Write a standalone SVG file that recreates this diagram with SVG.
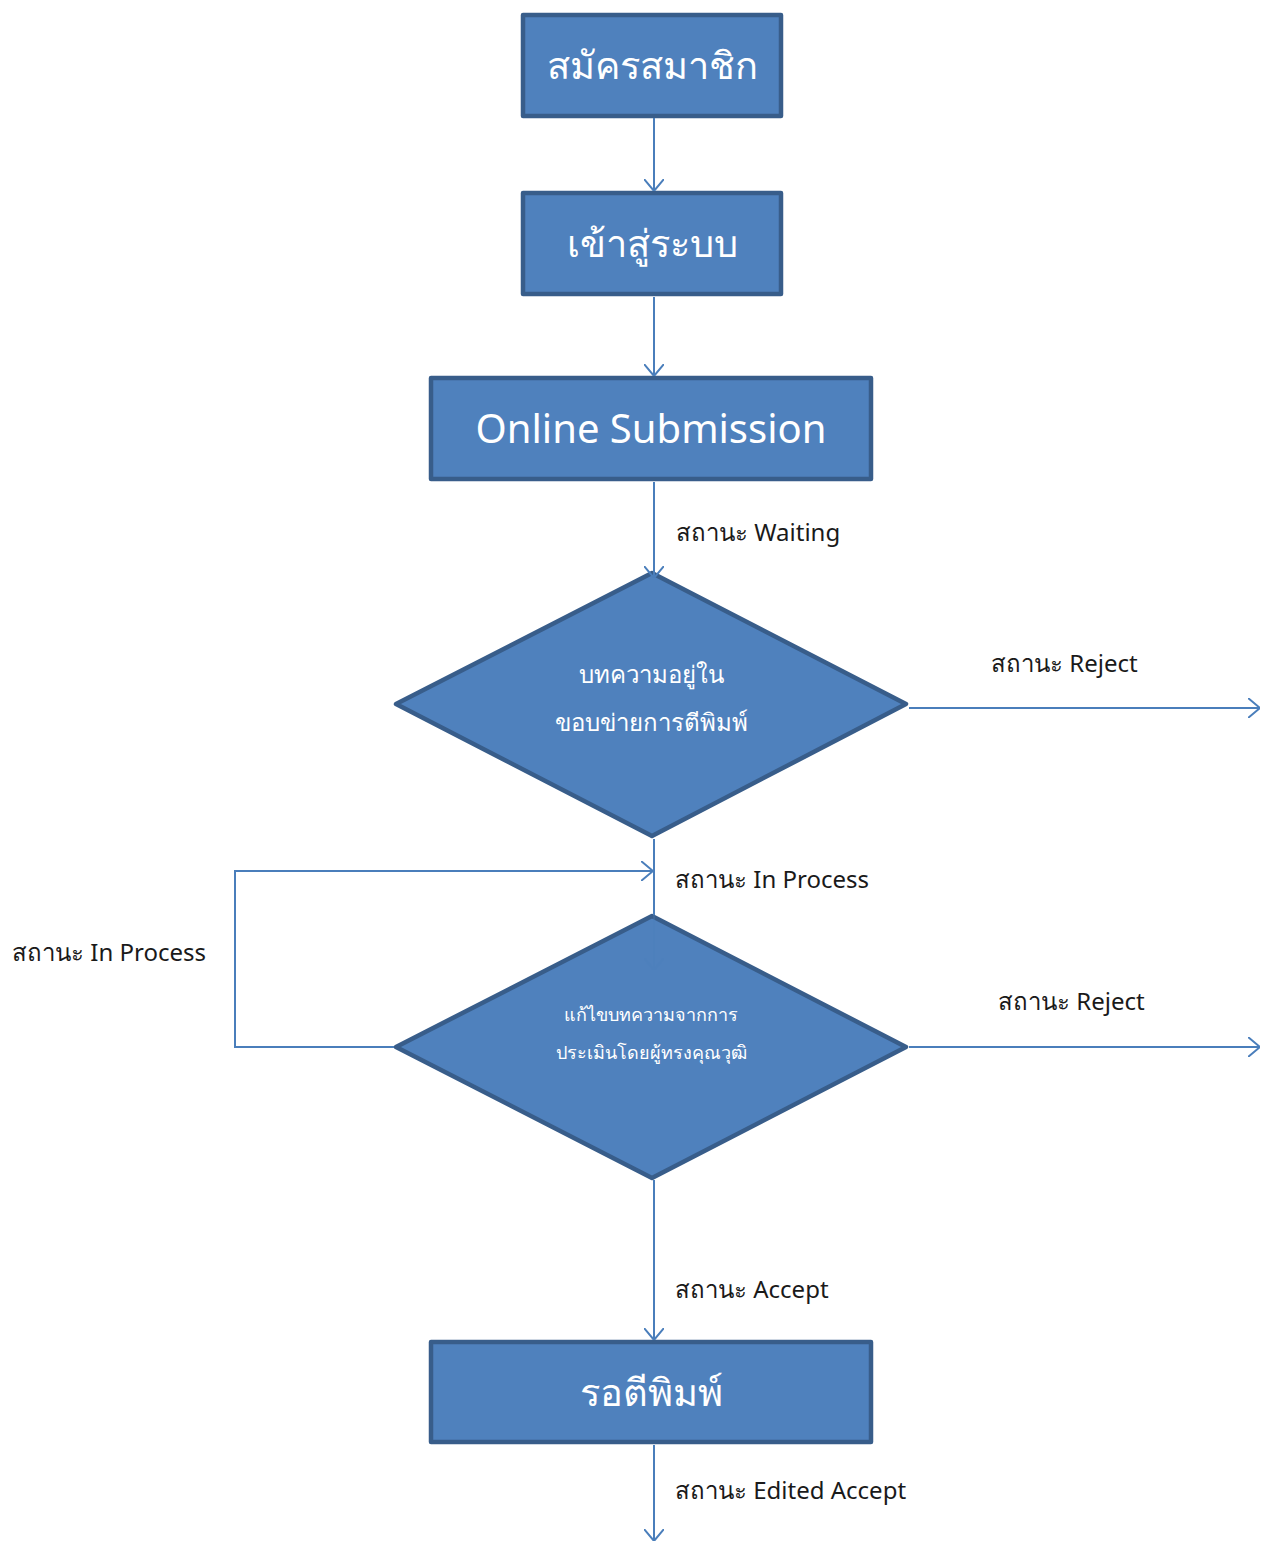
<svg xmlns="http://www.w3.org/2000/svg" width="1261" height="1542" viewBox="0 0 1261 1542">
<style>
.node{fill:#4f81bd;stroke:#385d8a;stroke-width:4.5;stroke-linejoin:round}
.nt{fill:#ffffff;font-family:"Noto Sans","DejaVu Sans",sans-serif;text-anchor:middle}
.lbl{fill:#1a1a1a;font-family:"Noto Sans","DejaVu Sans",sans-serif;font-size:24px}
.con{fill:none;stroke:#4a7ebb;stroke-width:2}
</style>
<defs>
<marker id="arr" viewBox="0 0 12 20" refX="12" refY="10" markerWidth="12" markerHeight="20" markerUnits="userSpaceOnUse" orient="auto">
<path d="M0,0 L12,10 L0,20" fill="none" stroke="#4a7ebb" stroke-width="2"/>
</marker>
</defs>
<rect width="1261" height="1542" fill="#ffffff"/>
<g id="labels">
<text class="lbl" x="676" y="541">สถานะ Waiting</text>
<text class="lbl" x="991" y="672">สถานะ Reject</text>
<text class="lbl" x="675" y="888">สถานะ In Process</text>
<text class="lbl" x="12" y="961">สถานะ In Process</text>
<text class="lbl" x="998" y="1010">สถานะ Reject</text>
<text class="lbl" x="675" y="1298">สถานะ Accept</text>
<text class="lbl" x="675" y="1499">สถานะ Edited Accept</text>
</g>
<g id="n1">
<rect class="node" x="523" y="15" width="258" height="101"/>
<text class="nt" x="652" y="79" font-size="38">สมัครสมาชิก</text>
</g>
<g id="n2">
<rect class="node" x="523" y="193" width="258" height="101"/>
<text class="nt" x="652" y="257" font-size="38">เข้าสู่ระบบ</text>
</g>
<g id="n3">
<rect class="node" x="431" y="378" width="440" height="101"/>
<text class="nt" x="651" y="443" font-size="40">Online Submission</text>
</g>
<g id="d1">
<polygon class="node" points="652,573 906,704 652,836 396,704"/>
<text class="nt" x="651" y="683" font-size="24">บทความอยู่ใน</text>
<text class="nt" x="651" y="731" font-size="24">ขอบข่ายการตีพิมพ์</text>
</g>
<g id="d2">
<polygon class="node" points="652,916 906,1047 652,1178 396,1047"/>
<text class="nt" x="651" y="1021" font-size="18">แก้ไขบทความจากการ</text>
<text class="nt" x="651" y="1059" font-size="18">ประเมินโดยผู้ทรงคุณวุฒิ</text>
</g>
<g id="n4">
<rect class="node" x="431" y="1342" width="440" height="100"/>
<text class="nt" x="651" y="1406" font-size="38">รอตีพิมพ์</text>
</g>
<g id="connectors">
<line class="con" x1="654" y1="118" x2="654" y2="191" marker-end="url(#arr)"/>
<line class="con" x1="654" y1="297" x2="654" y2="376" marker-end="url(#arr)"/>
<line class="con" x1="654" y1="482" x2="654" y2="578" marker-end="url(#arr)"/>
<line class="con" x1="909" y1="708" x2="1260" y2="708" marker-end="url(#arr)"/>
<line class="con" x1="654" y1="839" x2="654" y2="915"/>
<line class="con" x1="654" y1="915" x2="654" y2="970" opacity="0.3" marker-end="url(#arr)"/>
<polyline class="con" points="394,1047 235,1047 235,871 653,871" marker-end="url(#arr)"/>
<line class="con" x1="909" y1="1047" x2="1260" y2="1047" marker-end="url(#arr)"/>
<line class="con" x1="654" y1="1180" x2="654" y2="1340" marker-end="url(#arr)"/>
<line class="con" x1="654" y1="1445" x2="654" y2="1541" marker-end="url(#arr)"/>
</g>
</svg>
